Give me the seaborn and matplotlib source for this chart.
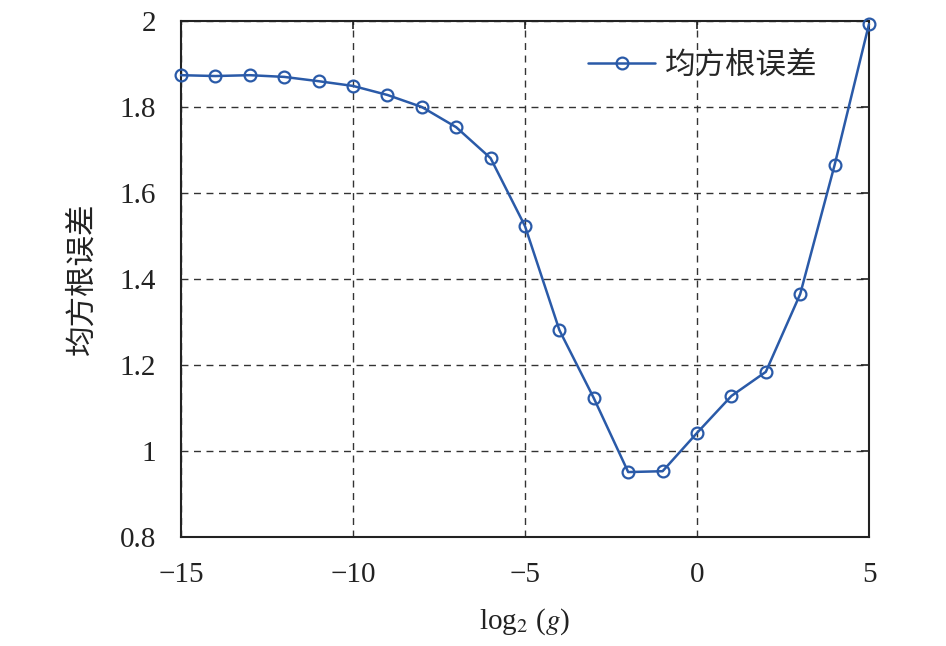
import numpy as np
import pandas as pd
import matplotlib
matplotlib.use("Agg")
import matplotlib.pyplot as plt
import seaborn as sns

# Daten
log2_g = [-15, -14, -13, -12, -11, -10, -9, -8, -7, -6, -5, -4, -3, -2, -1, 0, 1, 2, 3, 4, 5]
rmse = [1.874, 1.872, 1.874, 1.870, 1.860, 1.849, 1.828, 1.800, 1.753, 1.681, 1.523,
        1.281, 1.123, 0.951, 0.953, 1.042, 1.128, 1.184, 1.365, 1.665, 1.993]
x_ticks = [-15, -10, -5, 0, 5]
x_tick_labels = ["\u221215", "\u221210", "\u22125", "0", "5"]
y_ticks = [0.8, 1.0, 1.2, 1.4, 1.6, 1.8, 2.0]
y_tick_labels = ["0.8", "1", "1.2", "1.4", "1.6", "1.8", "2"]
series_name = "均方根误差"

sns.set_theme(style="white")
plt.rcParams["font.family"] = ["Liberation Serif", "Noto Sans CJK SC"]
plt.rcParams["mathtext.fontset"] = "stix"

df = pd.DataFrame({"x": log2_g, "y": rmse})

fig = plt.figure(figsize=(9.46, 6.46), dpi=100)
ax = fig.add_axes([181 / 946, 1 - 537 / 646, (869 - 181) / 946, (537 - 21) / 646])

color = "#2a5aa8"
sns.lineplot(data=df, x="x", y="y", ax=ax, color=color, linewidth=1.8,
             marker="o", markersize=8.5, markerfacecolor="none",
             markeredgecolor=color, markeredgewidth=1.6, label=series_name,
             clip_on=False, zorder=3)

ax.set_xlim(-15, 5)
ax.set_ylim(0.8, 2.0)
ax.set_xticks(x_ticks)
ax.set_xticklabels(x_tick_labels)
ax.set_yticks(y_ticks)
ax.set_yticklabels(y_tick_labels)
ax.tick_params(direction="in", length=6, width=1.2, labelsize=21, colors="#222222",
               top=True, right=True)
ax.tick_params(axis="x", pad=18)
ax.tick_params(axis="y", pad=18)
ax.grid(True, color="#333333", linestyle=(0, (5, 4)), linewidth=1.0)
for s in ax.spines.values():
    s.set_color("#222222")
    s.set_linewidth(1.5)

ax.set_xlabel(r"log$_2$ ($g$)", fontsize=21, color="#222222", labelpad=13)
ax.set_ylabel(series_name, fontsize=22, color="#222222", labelpad=16,
              family=["Noto Sans CJK SC", "DejaVu Sans"])

# Legende oben rechts, etwas naeher an den oberen Rand
leg = ax.legend(loc="upper right", frameon=False,
                bbox_to_anchor=(1 - 3 / 688, 1 + 20 / 516),
                prop={"family": ["Noto Sans CJK SC", "DejaVu Sans"], "size": 22},
                handlelength=2.2, handletextpad=0.3, borderaxespad=1.2)

fig.savefig("out.png", dpi=100)
